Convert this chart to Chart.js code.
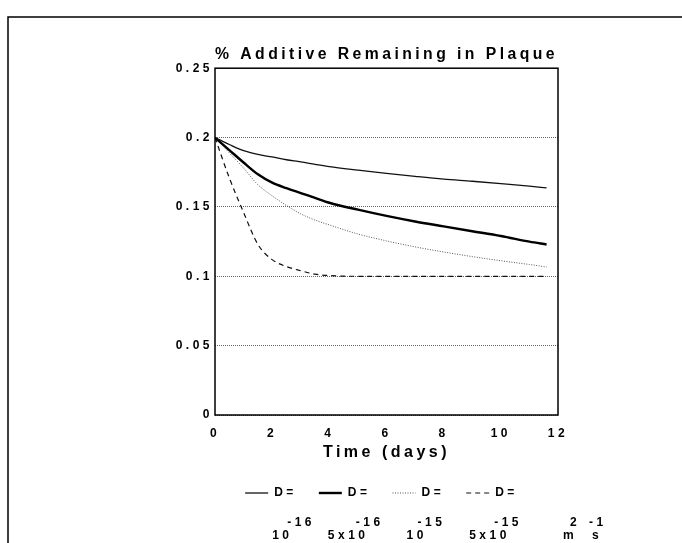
<!DOCTYPE html>
<html>
<head>
<meta charset="utf-8">
<script src="https://cdn.jsdelivr.net/npm/chart.js@4/dist/chart.umd.min.js"></script>
<style>
  html, body { margin: 0; padding: 0; background: #fff; }
  #wrap { width: 682px; height: 543px; }
</style>
</head>
<body>
<div id="wrap"><canvas id="myChart"></canvas></div>
<script>
// time in days
var days = [0, 0.5, 1, 1.5, 2, 2.5, 3, 3.5, 4, 5, 6, 7, 8, 9, 10, 11, 11.6];
// % additive remaining, one array per diffusion coefficient
var d1e16 = [0.2, 0.195, 0.1905, 0.1878, 0.186, 0.184, 0.1825, 0.1807, 0.179, 0.1765, 0.1742, 0.172, 0.170, 0.1685, 0.1668, 0.165, 0.1637];
var d5e16 = [0.2, 0.191, 0.182, 0.1735, 0.1675, 0.1635, 0.160, 0.1565, 0.153, 0.148, 0.1435, 0.1395, 0.136, 0.1325, 0.129, 0.125, 0.1229];
var d1e15 = [0.2, 0.189, 0.178, 0.166, 0.158, 0.151, 0.145, 0.1405, 0.137, 0.1305, 0.1255, 0.1212, 0.1175, 0.1142, 0.1112, 0.1085, 0.1067];
var d5e15 = [0.2, 0.171, 0.146, 0.123, 0.112, 0.107, 0.104, 0.1015, 0.1005, 0.1, 0.1, 0.1, 0.1, 0.1, 0.1, 0.1, 0.1];

var legendBase = ['10', '5x10', '10', '5x10'];
var legendExp = ['-16', '-16', '-15', '-15'];

var FONT = '"Liberation Sans", Arial, sans-serif';
var SPACING = '3.5px';

function pts(ys) {
  return days.map(function (d, i) { return { x: d, y: ys[i] }; });
}

// letter spacing + frame + exponent rows under the legend
var paperPlugin = {
  id: 'paper',
  beforeLayout: function (chart) { chart.ctx.letterSpacing = SPACING; },
  afterLayout: function (chart) {
    // legend sits a little left of the plot centre
    chart.legend.left -= 5;
    chart.legend.right -= 5;
  },
  beforeDraw: function (chart) { chart.ctx.letterSpacing = SPACING; },
  afterDraw: function (chart) {
    var ctx = chart.ctx;
    var a = chart.chartArea;
    ctx.save();
    // outer frame
    ctx.strokeStyle = '#000';
    ctx.lineWidth = 1.5;
    ctx.beginPath();
    ctx.moveTo(8, chart.height);
    ctx.lineTo(8, 17);
    ctx.lineTo(chart.width, 17);
    ctx.stroke();
    // plot box
    ctx.lineWidth = 1.5;
    ctx.strokeRect(a.left, a.top, a.right - a.left, a.bottom - a.top);

    // exponents under legend items
    var boxes = chart.legend.legendHitBoxes || [];
    var baseOff = [27, 9, 14, 3];
    var expOff = [42, 37, 25, 28];
    ctx.fillStyle = '#000';
    ctx.textBaseline = 'middle';
    ctx.textAlign = 'left';
    ctx.letterSpacing = SPACING;
    ctx.font = 'bold 12px ' + FONT;
    boxes.forEach(function (b, i) {
      var row = b.top + b.height / 2;
      ctx.fillText(legendBase[i], b.left + baseOff[i], row + 43);
      ctx.fillText(legendExp[i], b.left + expOff[i], row + 30);
    });
    // units m^2 s^-1
    if (boxes.length) {
      var row0 = boxes[0].top + boxes[0].height / 2;
      var ux = a.right + 5;
      ctx.fillText('m', ux, row0 + 43);
      ctx.fillText('2', ux + 7, row0 + 30);
      ctx.fillText('s', ux + 29, row0 + 43);
      ctx.fillText('-1', ux + 26, row0 + 30);
    }
    ctx.restore();
  }
};

function legendLabels(chart) {
  return chart.data.datasets.map(function (ds, i) {
    return {
      text: ds.label,
      datasetIndex: i,
      fillStyle: 'rgba(0,0,0,0)',
      strokeStyle: ds.borderColor,
      lineWidth: ds.borderWidth,
      lineDash: ds.borderDash || [],
      pointStyle: 'line',
      fontColor: '#000'
    };
  });
}

var ctx = document.getElementById('myChart').getContext('2d');

var chartData = {
  type: 'line',
  data: {
    datasets: [
      { label: 'D=', data: pts(d1e16), borderColor: '#111', borderWidth: 1.3 },
      { label: 'D=', data: pts(d5e16), borderColor: '#000', borderWidth: 2.4 },
      { label: 'D=', data: pts(d1e15), borderColor: '#555', borderWidth: 1, borderDash: [1, 1.5] },
      { label: 'D=', data: pts(d5e15), borderColor: '#111', borderWidth: 1.2, borderDash: [5, 4] }
    ]
  },
  options: {
    responsive: true,
    maintainAspectRatio: false,
    animation: false,
    layout: { padding: { left: 165, right: 124, top: 45, bottom: 34 } },
    elements: {
      point: { radius: 0 },
      line: { tension: 0.4, cubicInterpolationMode: 'monotone', fill: false }
    },
    scales: {
      x: {
        type: 'linear',
        min: 0,
        max: 12,
        ticks: { stepSize: 2, color: '#000', padding: 3, font: { family: FONT, size: 12, weight: 'bold' } },
        grid: { display: false },
        border: { display: false },
        title: { display: true, text: 'Time (days)', color: '#000', padding: { top: 0, bottom: 3 }, font: { family: FONT, size: 16, weight: 'bold' } },
        afterFit: function (s) { s.height = 50; }
      },
      y: {
        min: 0,
        max: 0.25,
        ticks: {
          stepSize: 0.05,
          color: '#000',
          padding: 2,
          font: { family: FONT, size: 12, weight: 'bold' },
          callback: function (v) { return String(+v.toFixed(2)); }
        },
        grid: { color: '#666', lineWidth: 1, drawTicks: false },
        border: { display: false, dash: [1, 1] },
        afterFit: function (s) { s.width = 50; }
      }
    },
    plugins: {
      title: {
        display: true,
        fullSize: false,
        text: '% Additive Remaining in Plaque',
        color: '#000',
        padding: { top: 0, bottom: 4 },
        font: { family: FONT, size: 16, weight: 'bold' }
      },
      legend: {
        position: 'bottom',
        fullSize: false,
        labels: {
          usePointStyle: true,
          pointStyleWidth: 23,
          boxWidth: 23,
          boxHeight: 8,
          padding: 22,
          color: '#000',
          font: { family: FONT, size: 12, weight: 'bold' },
          generateLabels: legendLabels
        }
      },
      tooltip: { enabled: false }
    }
  },
  plugins: [paperPlugin]
};

var myChart = new Chart(ctx, chartData);
</script>
</body>
</html>
